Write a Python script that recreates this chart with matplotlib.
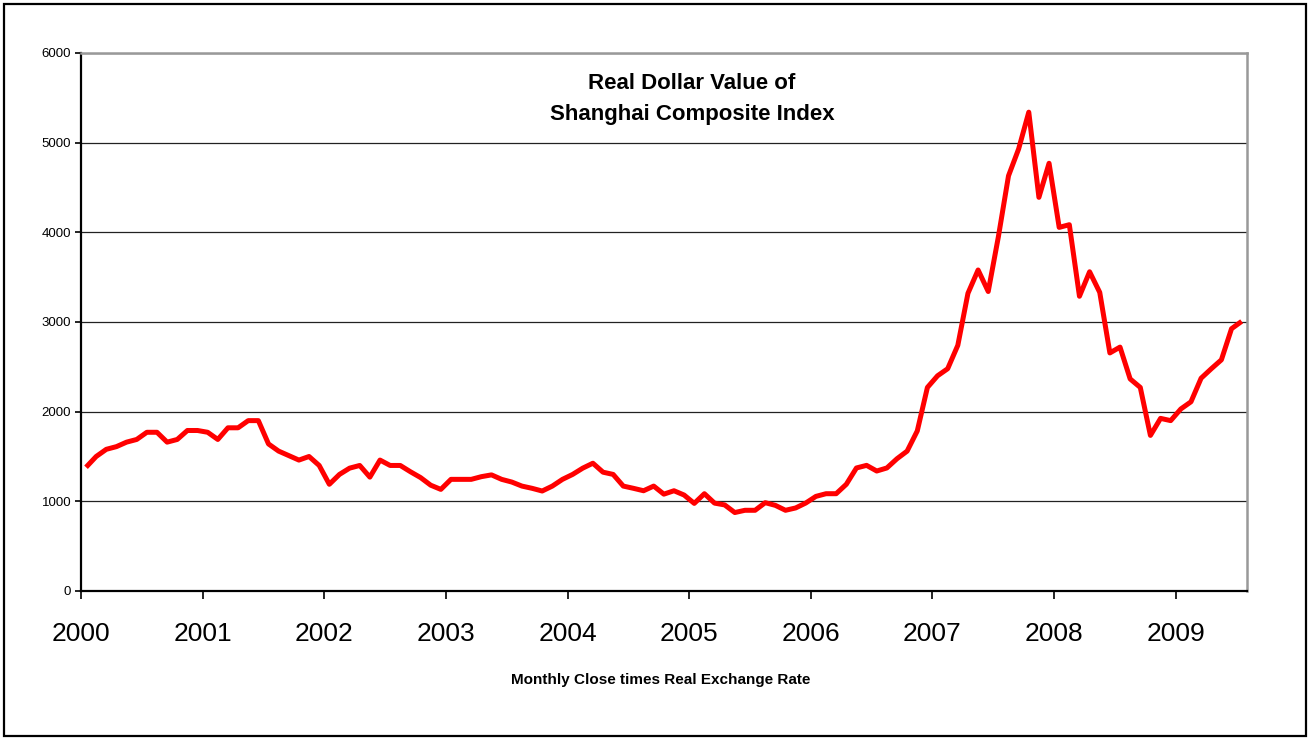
import numpy as np
import matplotlib.pyplot as plt
from matplotlib.patches import Rectangle

plt.rcParams['font.family'] = ['Liberation Sans', 'DejaVu Sans']

# monthly values, Jan 2000 .. Jul 2009
start_year = 2000
values = [
    1380, 1500, 1580, 1610, 1660, 1690, 1770, 1770, 1660, 1690, 1790, 1790,
    1770, 1690, 1820, 1820, 1900, 1900, 1640, 1560, 1510, 1460, 1500, 1400,
    1190, 1300, 1370, 1400, 1270, 1460, 1400, 1400, 1330, 1265, 1180, 1133,
    1245, 1245, 1245, 1275, 1295, 1245, 1215, 1170, 1145, 1115, 1170, 1245,
    1300, 1370, 1425, 1325, 1300, 1170, 1145, 1118, 1170, 1080, 1118, 1070,
    977, 1085, 980, 960, 875, 900, 900, 985, 955, 900, 926, 981,
    1055, 1085, 1085, 1190, 1372, 1401, 1338, 1372, 1475, 1560, 1785, 2270,
    2400, 2479, 2740, 3320, 3580, 3340, 3950, 4630, 4930, 5340, 4390, 4770,
    4055, 4085, 3287, 3560, 3330, 2655, 2720, 2365, 2270, 1735, 1925, 1900,
    2030, 2110, 2373, 2478, 2578, 2925, 3007,
]
year_ticks = list(range(2000, 2010))
y_ticks = [0, 1000, 2000, 3000, 4000, 5000, 6000]

title = "Real Dollar Value of\nShanghai Composite Index"
xlabel = "Monthly Close times Real Exchange Rate"

n = len(values)
x = start_year + (np.arange(n) + 0.5) / 12

fig = plt.figure(figsize=(13.1, 7.38), dpi=100)
ax = fig.add_axes([0.0618, 0.1992, 0.8899, 0.729])

ax.plot(x, values, color='#ff0000', lw=3.6, solid_joinstyle='round',
        solid_capstyle='butt', zorder=3)

ax.set_xlim(start_year, start_year + n / 12)
ax.set_ylim(0, 6000)
ax.set_yticks(y_ticks)
ax.set_xticks(year_ticks)
ax.set_xticklabels([str(y) for y in year_ticks])

ax.grid(axis='y', color='#222222', lw=0.9)
ax.set_axisbelow(True)

ax.tick_params(axis='y', direction='out', length=4, width=1.2, pad=3,
               labelsize=9.5)
ax.tick_params(axis='x', direction='out', length=6, width=1.2, pad=16,
               labelsize=19)

for side in ['left', 'bottom']:
    ax.spines[side].set_color('black')
    ax.spines[side].set_linewidth(1.6)
for side in ['top', 'right']:
    ax.spines[side].set_color('#999999')
    ax.spines[side].set_linewidth(1.8)

ax.text(0.524, 0.915, title, transform=ax.transAxes, ha='center', va='center',
        fontsize=16, fontweight='bold', linespacing=1.6)

fig.text(0.504, 0.078, xlabel, ha='center', va='center', fontsize=11,
         fontweight='bold')

# outer frame
fig.patches.append(Rectangle((0.003, 0.003), 0.994, 0.992,
                             transform=fig.transFigure, fill=False,
                             edgecolor='black', lw=1.6))

fig.savefig('out.png', dpi=100)
